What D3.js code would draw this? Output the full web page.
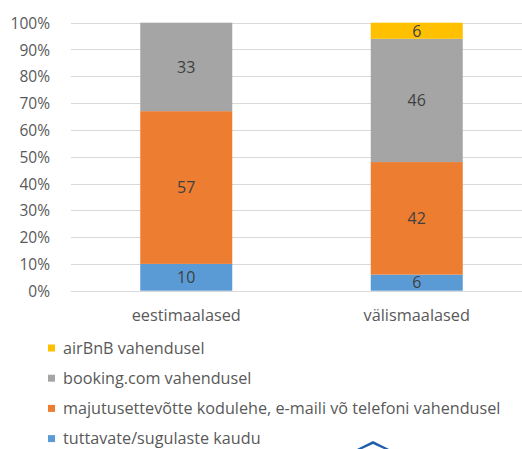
<!DOCTYPE html>
<html>
<head>
<meta charset="utf-8">
<script src="https://cdn.jsdelivr.net/npm/d3@7"></script>
<style>
  body { margin: 0; background: #fff; }
  svg { display: block; }
</style>
</head>
<body>
<svg id="chart" width="522" height="449"></svg>
<script>
// data
var categories = ["eestimaalased", "välismaalased"];
var seriesNames = [
    "tuttavate/sugulaste kaudu",
    "majutusettevõtte kodulehe, e-maili võ telefoni vahendusel",
    "booking.com vahendusel",
    "airBnB vahendusel"
];
var tuttavate = [10, 6];
var majutus = [57, 42];
var booking = [33, 46];
var airbnb = [0, 6];
var yTicks = [0, 10, 20, 30, 40, 50, 60, 70, 80, 90, 100];

var colors = ["#5b9bd5", "#ed7d31", "#a5a5a5", "#ffc000"];
var font = "'Open Sans', sans-serif";
var textColor = "#595959";

var width = 522, height = 449;
var margin = { top: 22.7, left: 71, bottom: 290.7, right: 532 };

var values = [tuttavate, majutus, booking, airbnb];
var rows = categories.map((c, i) => {
    var r = { cat: c, total: 0 };
    seriesNames.forEach((s, j) => { r[s] = values[j][i]; r.total += values[j][i]; });
    return r;
});
var stacked = d3.stack()
    .keys(seriesNames)
    .value((d, k) => d[k] / d.total)(rows);

var svg = d3.select("#chart");

var x = d3.scaleBand()
    .domain(categories)
    .range([margin.left, margin.right])
    .paddingInner(0.6).paddingOuter(0.3);

var y = d3.scaleLinear()
    .domain([0, 1])
    .range([margin.bottom, margin.top]);

// gridlines
svg.append("g")
    .selectAll("line")
    .data(yTicks)
    .join("line")
    .attr("x1", margin.left)
    .attr("x2", width)
    .attr("y1", d => Math.round(y(d / 100)) + 0.5)
    .attr("y2", d => Math.round(y(d / 100)) + 0.5)
    .attr("stroke", "#d9d9d9")
    .attr("stroke-width", 1);

// y axis labels
svg.append("g")
    .attr("transform", `translate(${margin.left - 18},0)`)
    .call(d3.axisLeft(y)
        .tickValues(yTicks.map(t => t / 100))
        .tickFormat(d3.format(".0%"))
        .tickSize(0))
    .call(g => g.select(".domain").remove())
    .call(g => g.selectAll("text")
        .attr("font-family", font)
        .attr("font-size", 15.5)
        .attr("fill", textColor)
        .attr("dy", "0.36em"));

// bars
var bw = 92;
stacked.forEach((layer, si) => {
    var g = svg.append("g").attr("fill", colors[si]);
    var segs = layer.map((d, i) => ({ d: d, cat: categories[i], v: values[si][i] }))
        .filter(s => s.v > 0);
    g.selectAll("rect")
        .data(segs)
        .join("rect")
        .attr("x", s => x(s.cat) + x.bandwidth() / 2 - bw / 2)
        .attr("width", bw)
        .attr("y", s => y(s.d[1]))
        .attr("height", s => y(s.d[0]) - y(s.d[1]));
    svg.append("g")
        .selectAll("text")
        .data(segs)
        .join("text")
        .attr("x", s => x(s.cat) + x.bandwidth() / 2)
        .attr("y", s => (y(s.d[0]) + y(s.d[1])) / 2)
        .attr("dy", "0.36em")
        .attr("text-anchor", "middle")
        .attr("font-family", font)
        .attr("font-size", 16)
        .attr("fill", "#404040")
        .text(s => s.v);
});

// category labels
svg.append("g")
    .selectAll("text")
    .data(categories)
    .join("text")
    .attr("x", c => x(c) + x.bandwidth() / 2)
    .attr("y", 315)
    .attr("dy", "0.36em")
    .attr("text-anchor", "middle")
    .attr("font-family", font)
    .attr("font-size", 16.3)
    .attr("fill", textColor)
    .text(c => c);

// legend (reversed order)
var legendOrder = seriesNames.map((s, i) => i).reverse();
var lg = svg.append("g")
    .selectAll("g")
    .data(legendOrder)
    .join("g")
    .attr("transform", (d, i) => `translate(48, ${348 + i * 30.2})`);
lg.append("rect")
    .attr("x", 0).attr("y", -3.5)
    .attr("width", 7).attr("height", 7)
    .attr("fill", d => colors[d]);
lg.append("text")
    .attr("x", 15)
    .attr("dy", "0.34em")
    .attr("font-family", font)
    .attr("font-size", 16.2)
    .attr("fill", textColor)
    .text(d => seriesNames[d]);

// partial logo at bottom edge
svg.append("path")
    .attr("d", "M357,449 L373,441 L389,449 L384,449 L373,444 L362,449 Z")
    .attr("fill", "#1f5ea8");
</script>
</body>
</html>
